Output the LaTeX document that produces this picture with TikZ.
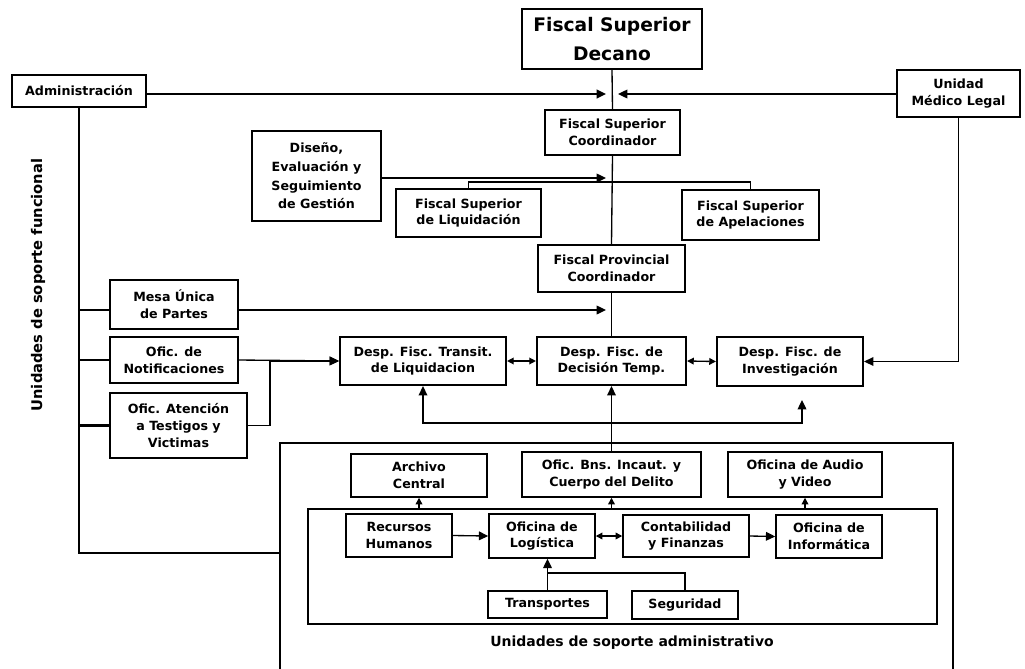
\documentclass[tikz,border=0pt]{standalone}
\usepackage{fontspec}
\setmainfont{DejaVu Sans}
\usetikzlibrary{arrows.meta}
\newcommand\mybox[7]{\node[#6, minimum width={(#4-#2)*0.75pt}, minimum height={(#5-#3)*0.75pt}] (#1) at ({(#2+#4)/2},{(#3+#5)/2}) {#7};}
\begin{document}
\begin{tikzpicture}[x=0.75pt,y=-0.75pt,
  box/.style={draw, line width=1.1pt, align=center, inner sep=0pt, font=\fontsize{9.5}{12.5}\selectfont\bfseries},
  tbox/.style={box, line width=1.6pt},
  thin/.style={box, line width=0.9pt},
  frame/.style={draw, inner sep=0pt},
  conn/.style={line width=1pt},
  heavy/.style={line width=1.6pt},
  tip/.tip={Triangle[length=7pt,width=6.5pt]},
  stip/.tip={Triangle[length=5pt,width=5pt]},
  arr/.style={conn, -tip},
  sarr/.style={conn, -stip},
  darr/.style={conn, stip-stip}]
\useasboundingbox (0,0) rectangle (1025,668);

% nodes
\mybox{dec}{522}{9}{702}{69}{box, line width=1.5pt, font=\fontsize{14}{22}\selectfont\bfseries}{Fiscal Superior\\Decano}
\mybox{adm}{12}{75}{146}{107}{box}{Administración}
\mybox{med}{897}{70}{1020}{117}{thin}{Unidad\\Médico Legal}
\mybox{coord}{545}{110}{680}{155}{tbox}{Fiscal Superior\\Coordinador}
\mybox{dis}{252}{131}{381}{221}{thin, font=\fontsize{9.5}{14}\selectfont\bfseries}{Diseño,\\Evaluación y\\Seguimiento\\de Gestión}
\mybox{liq}{396}{189}{541}{237}{tbox, line width=2pt}{Fiscal Superior\\de Liquidación}
\mybox{apel}{682}{190}{819}{240}{tbox, line width=2pt}{Fiscal Superior\\de Apelaciones}
\mybox{fpc}{538}{245}{685}{292}{tbox}{Fiscal Provincial\\Coordinador}
\mybox{mesa}{110}{280}{238}{329}{box}{Mesa Única\\de Partes}
\mybox{notif}{110}{337}{238}{383}{box}{Ofic. de\\Notificaciones}
\mybox{att}{110}{393}{247}{458}{box}{Ofic. Atención\\a Testigos y\\Victimas}
\mybox{trans}{340}{337}{506}{385}{tbox}{Desp. Fisc. Transit.\\de Liquidacion}
\mybox{dtem}{537}{337}{686}{385}{tbox}{Desp. Fisc. de\\Decisión Temp.}
\mybox{inv}{717}{337}{863}{386}{tbox}{Desp. Fisc. de\\Investigación}
\mybox{big}{280}{443}{953}{700}{frame, line width=1.4pt}{}
\mybox{inner}{308}{509}{937}{624}{frame, line width=1.1pt}{}
\mybox{arch}{351}{454}{487}{497}{box}{Archivo\\Central}
\mybox{bns}{522}{452}{701}{497}{box}{Ofic. Bns. Incaut. y\\Cuerpo del Delito}
\mybox{audio}{728}{452}{882}{497}{box}{Oficina de Audio\\y Video}
\mybox{rrhh}{346}{514}{452}{557}{box}{Recursos\\Humanos}
\mybox{log}{489}{514}{595}{558}{box}{Oficina de\\Logística}
\mybox{cont}{623}{515}{749}{557}{box}{Contabilidad\\y Finanzas}
\mybox{inf}{776}{515}{882}{558}{box}{Oficina de\\Informática}
\mybox{transp}{488}{591}{607}{618}{box}{Transportes}
\mybox{seg}{632}{591}{738}{619}{box}{Seguridad}
\node[font=\fontsize{10.5}{12}\selectfont\bfseries] (lbladm) at (632,643) {Unidades de soporte administrativo};
\node[font=\fontsize{11}{12}\selectfont\bfseries, rotate=90] (lblfun) at (38,285) {Unidades de soporte funcional};

% junction coordinates
\coordinate (jA) at (606,94);
\coordinate (jB) at (618,94);
\coordinate (jD) at (606,178);
\coordinate (jL) at (611.5,182);
\coordinate (jM) at (606,310);
\coordinate (jT) at (270,361);
\coordinate (jU) at (611.5,423);
\coordinate (jV) at (802,400);
\coordinate (jW) at (280,553);
\coordinate (jS) at (547.5,573);

% connectors
\draw[conn] (dec.south) -- (coord.north);
\draw[heavy, -tip] (adm.east |- jA) -- (jA);
\draw[arr] (med.west |- jB) -- (jB);
\draw[conn] (coord.south) -- (fpc.north);
\draw[arr] (dis.east |- jD) -- (jD);
\draw[conn] (jL) -| (liq.north);
\draw[conn] (jL) -| (apel.north);
\draw[conn] (fpc.south) -- (dtem.north);
\draw[arr] (mesa.east |- jM) -- (jM);
\draw[arr] (notif.east) -- (trans.west);
\draw[arr] (att.east) -| (jT) -- (trans.west);
\draw[darr] (trans.east) -- (dtem.west);
\draw[darr] (dtem.east) -- (inv.west);
\draw[arr] (med.south) |- (inv.east);
\draw[arr] (bns.north) -- (dtem.south);
\draw[arr] (jU) -| (trans.south);
\draw[arr] (jU) -| (jV);
\draw[heavy] (adm.south) |- (jW);
\draw[conn] (adm.south |- jM) -- (mesa.west |- jM);
\draw[conn] (adm.south |- notif.west) -- (notif.west);
\draw[heavy] (adm.south |- att.east) -- (att.west);
\draw[sarr] (arch.south |- inner.north) -- (arch.south);
\draw[sarr] (bns.south |- inner.north) -- (bns.south);
\draw[sarr] (audio.south |- inner.north) -- (audio.south);
\draw[arr] (rrhh.east) -- (log.west);
\draw[darr] (log.east) -- (cont.west);
\draw[arr] (cont.east) -- (inf.west);
\draw[arr] (transp.north) -- (transp.north |- log.south);
\draw[conn] (seg.north) |- (jS);
\end{tikzpicture}
\end{document}
